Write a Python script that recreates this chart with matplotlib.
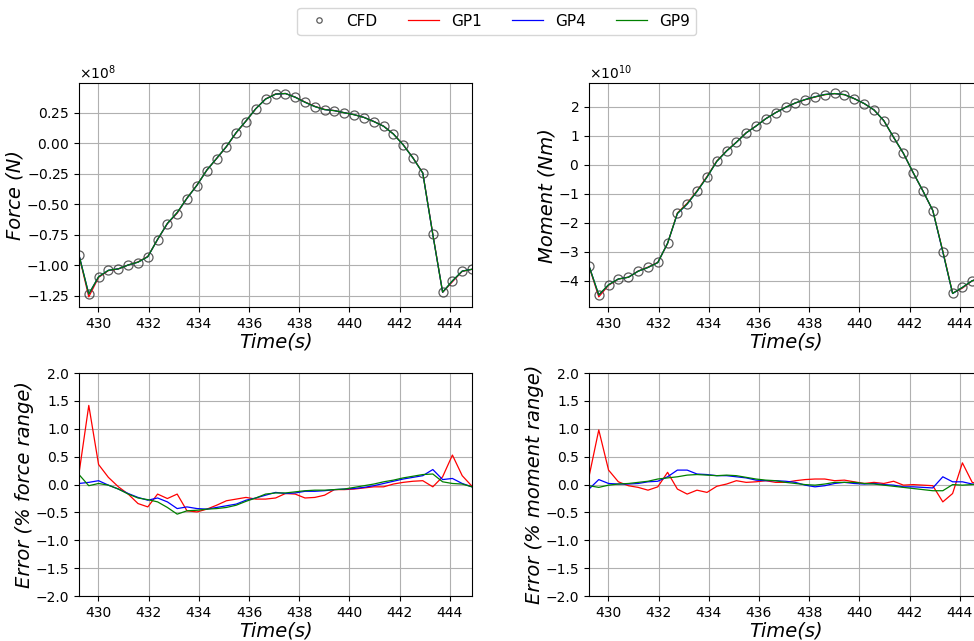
import matplotlib
matplotlib.use('Agg')
import matplotlib.pyplot as plt
import numpy as np

# time samples (s)
times = [429.23, 429.62, 430.01, 430.40, 430.80, 431.19, 431.58, 431.97, 432.36, 432.75,
         433.14, 433.53, 433.93, 434.32, 434.71, 435.10, 435.49, 435.88, 436.27, 436.66,
         437.06, 437.45, 437.84, 438.23, 438.62, 439.01, 439.40, 439.79, 440.19, 440.58,
         440.97, 441.36, 441.75, 442.14, 442.53, 442.92, 443.32, 443.71, 444.10, 444.49,
         444.88]

# CFD force (x1e8 N) and moment (x1e10 Nm)
cfd_force = [-0.916, -1.236, -1.094, -1.042, -1.031, -1.001, -0.979, -0.935, -0.793, -0.664,
             -0.577, -0.459, -0.352, -0.229, -0.133, -0.035, 0.080, 0.176, 0.277, 0.357,
             0.398, 0.403, 0.373, 0.332, 0.297, 0.272, 0.264, 0.247, 0.231, 0.209,
             0.176, 0.138, 0.075, -0.013, -0.120, -0.243, -0.746, -1.220, -1.127, -1.048,
             -1.034]
cfd_moment = [-3.49, -4.49, -4.14, -3.94, -3.88, -3.67, -3.54, -3.37, -2.70, -1.67,
              -1.34, -0.91, -0.415, 0.127, 0.484, 0.784, 1.107, 1.338, 1.592, 1.799,
              1.984, 2.134, 2.249, 2.341, 2.422, 2.457, 2.422, 2.284, 2.111, 1.892,
              1.522, 0.946, 0.392, -0.277, -0.911, -1.580, -3.00, -4.44, -4.23, -4.00,
              -3.90]

# errors in % of range
err_force_gp1 = [0.20, 1.42, 0.36, 0.13, -0.04, -0.17, -0.34, -0.40, -0.17, -0.25,
                 -0.17, -0.47, -0.49, -0.44, -0.37, -0.29, -0.26, -0.23, -0.26, -0.26,
                 -0.24, -0.16, -0.17, -0.24, -0.23, -0.19, -0.09, -0.09, -0.08, -0.06,
                 -0.04, -0.04, 0.01, 0.04, 0.06, 0.07, -0.04, 0.14, 0.53, 0.16,
                 -0.03]
err_force_gp4 = [0.02, 0.04, 0.07, -0.01, -0.08, -0.16, -0.23, -0.28, -0.24, -0.31,
                 -0.43, -0.40, -0.43, -0.44, -0.41, -0.38, -0.35, -0.28, -0.24, -0.19,
                 -0.14, -0.16, -0.15, -0.12, -0.12, -0.11, -0.09, -0.08, -0.07, -0.05,
                 -0.02, 0.02, 0.06, 0.10, 0.13, 0.16, 0.27, 0.09, 0.11, 0.02,
                 -0.04]
err_force_gp9 = [0.18, -0.02, 0.02, -0.01, -0.08, -0.17, -0.24, -0.27, -0.31, -0.41,
                 -0.53, -0.47, -0.46, -0.44, -0.43, -0.41, -0.37, -0.30, -0.24, -0.17,
                 -0.15, -0.15, -0.13, -0.11, -0.10, -0.10, -0.09, -0.08, -0.05, -0.02,
                 0.01, 0.05, 0.08, 0.12, 0.15, 0.18, 0.19, 0.05, 0.02, 0.01,
                 -0.04]
err_moment_gp1 = [0.14, 0.98, 0.26, 0.05, -0.02, -0.05, -0.10, -0.04, 0.22, -0.08,
                  -0.17, -0.10, -0.14, -0.03, 0.01, 0.07, 0.04, 0.05, 0.07, 0.04,
                  0.04, 0.07, 0.09, 0.10, 0.10, 0.07, 0.08, 0.05, 0.02, 0.04,
                  0.02, 0.06, -0.01, 0.00, -0.01, -0.02, -0.31, -0.16, 0.39, 0.04,
                  0.00]
err_moment_gp4 = [-0.08, 0.09, 0.02, 0.01, 0.01, 0.02, 0.05, 0.06, 0.14, 0.26,
                  0.26, 0.19, 0.18, 0.16, 0.16, 0.14, 0.12, 0.08, 0.07, 0.07,
                  0.06, 0.04, -0.01, -0.04, -0.02, 0.02, 0.04, 0.02, 0.01, 0.02,
                  0.00, -0.01, -0.04, -0.04, -0.05, -0.06, 0.14, 0.05, 0.05, 0.01,
                  0.00]
err_moment_gp9 = [-0.02, -0.05, -0.01, 0.01, 0.02, 0.04, 0.06, 0.10, 0.12, 0.14,
                  0.17, 0.18, 0.17, 0.16, 0.17, 0.16, 0.13, 0.10, 0.08, 0.07,
                  0.04, 0.02, 0.00, -0.01, 0.01, 0.04, 0.04, 0.04, 0.02, 0.01,
                  -0.01, -0.03, -0.05, -0.07, -0.09, -0.11, -0.11, 0.00, -0.01, 0.00,
                  0.01]

models = ['GP1', 'GP4', 'GP9']
colors = ['red', 'blue', 'green']
t = np.array(times)
force = np.array(cfd_force) * 1e8
moment = np.array(cfd_moment) * 1e10
f_err = [np.array(e) for e in (err_force_gp1, err_force_gp4, err_force_gp9)]
m_err = [np.array(e) for e in (err_moment_gp1, err_moment_gp4, err_moment_gp9)]

fig = plt.figure(figsize=(9.74, 6.41), dpi=100)
ax_f = fig.add_axes([0.0811, 0.521, 0.4035, 0.349])
ax_m = fig.add_axes([0.6047, 0.521, 0.4035, 0.349])
ax_fe = fig.add_axes([0.0811, 0.070, 0.4035, 0.348])
ax_me = fig.add_axes([0.6047, 0.070, 0.4035, 0.348])

label_kw = dict(fontsize=14, style='italic', labelpad=1)

# Force / moment vs CFD
for ax, cfd, errs, ylab in ((ax_f, force, f_err, 'Force (N)'),
                            (ax_m, moment, m_err, 'Moment (Nm)')):
    rng = cfd.max() - cfd.min()
    ax.plot(t, cfd, 'o', mfc='none', mec='#333333', ms=6.5, mew=0.9, alpha=0.8, label='CFD')
    for name, col, e in zip(models, colors, errs):
        ax.plot(t, cfd - e / 100 * rng, color=col, lw=0.9, label=name)
    ax.set_xlim(t[0], t[-1])
    ax.set_ylabel(ylab, **label_kw)
    ax.set_xlabel('Time(s)', **label_kw)
    ax.ticklabel_format(axis='y', style='sci', scilimits=(0, 0), useMathText=True)
    ax.grid(True)

# Errors
for ax, errs, ylab in ((ax_fe, f_err, 'Error (% force range)'),
                       (ax_me, m_err, 'Error (% moment range)')):
    for name, col, e in zip(models, colors, errs):
        ax.plot(t, e, color=col, lw=0.9)
    ax.set_xlim(t[0], t[-1])
    ax.set_ylim(-2, 2)
    ax.set_yticks(np.arange(-2.0, 2.01, 0.5))
    ax.set_ylabel(ylab, **label_kw)
    ax.set_xlabel('Time(s)', **label_kw)
    ax.grid(True)

handles, labels = ax_f.get_legend_handles_labels()
fig.legend(handles, labels, loc='upper center', bbox_to_anchor=(0.51, 1.0),
           ncol=4, fontsize=11, markerscale=0.6)

fig.savefig('out.png', dpi=100)
